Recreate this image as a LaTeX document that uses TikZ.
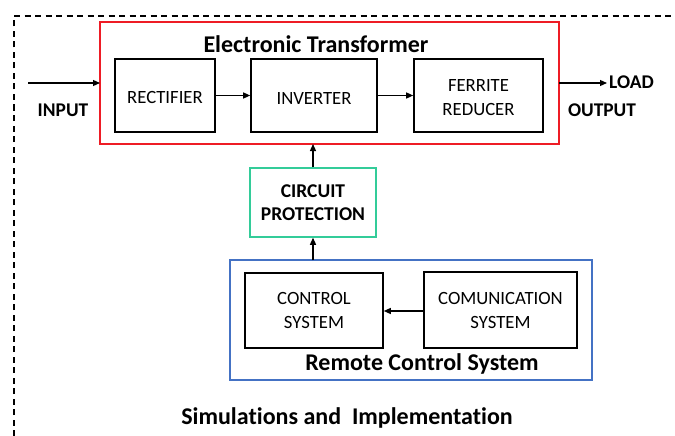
\documentclass[tikz,border=0pt]{standalone}
\usepackage{fontspec}
\setmainfont[Ligatures=NoCommon]{Carlito}
\usetikzlibrary{arrows.meta,positioning}
\definecolor{redframe}{HTML}{EE1C25}
\definecolor{greenframe}{HTML}{33CC99}
\definecolor{blueframe}{HTML}{4472C4}
% taller strut pushes a block's text slightly downwards
\newcommand{\lowstrut}{\rule{0pt}{17pt}}
\tikzset{
  x=1pt, y=-1pt,
  block/.style={draw=black, line width=1.6pt, inner sep=0pt, align=center, font=\fontsize{18.7}{24}\selectfont},
  frame/.style={line width=1.5pt, inner sep=0pt},
  title/.style={font=\bfseries\fontsize{24}{28}\selectfont, inner sep=0pt},
  tag/.style={font=\bfseries\fontsize{19.4}{22}\selectfont, inner sep=0pt},
  flow/.style={line width=1.2pt, -{Triangle[length=7pt,width=6pt]}},
}
\begin{document}
\begin{tikzpicture}
\useasboundingbox (0,0) rectangle (675,436);
% outer dashed frame
\draw[line width=1.3pt, dash pattern=on 6pt off 4.5pt] (14,436) -- (14,16) -- (675,16);

% electronic transformer
\draw[frame, draw=redframe] (100,22) rectangle (559,144);
\coordinate (etbot) at (313,144);
\node[title] (ettitle) at (316,44) {Electronic Transformer};
\node[block, minimum width=100pt, minimum height=73pt] (rect) at (165,95.5) {\lowstrut RECTIFIER};
\node[block, minimum width=126pt, minimum height=73pt] (inv) at (314,95.5) {\lowstrut INVERTER};
\node[block, minimum width=129pt, minimum height=73pt] (fer) at (478.5,95.5) {\lowstrut FERRITE\\REDUCER};
\draw[flow] (rect.east) -- (inv.west);
\draw[flow] (inv.east) -- (fer.west);

% input / output
\coordinate (inL) at (28,83);
\coordinate (inR) at (100,83);
\coordinate (outL) at (559,83);
\coordinate (outR) at (607,83);
\draw[flow] (inL) -- (inR);
\draw[flow] (outL) -- (outR);
\node[tag] (input) at (63,110) {INPUT};
\node[tag, anchor=west] (load) at (609,82) {LOAD};
\node[tag] (output) at (602,110) {OUTPUT};

% circuit protection
\node[draw=greenframe, line width=1.5pt, minimum width=126pt, minimum height=69pt, inner sep=0pt, align=center,
      font=\bfseries\fontsize{19.5}{23}\selectfont] (prot) at (313,202.5) {CIRCUIT\\PROTECTION};
\draw[flow] (prot.north) -- (etbot);

% remote control system
\draw[frame, draw=blueframe] (230,260) rectangle (592,380);
\coordinate (rcstop) at (313,260);
\node[block, minimum width=138pt, minimum height=75pt] (ctrl) at (314,310.5) {CONTROL\\SYSTEM};
\node[block, minimum width=153pt, minimum height=76pt] (comm) at (500.5,310) {COMUNICATION\\SYSTEM};
\node[title] (rctitle) at (422,364) {Remote Control System};
\draw[flow] (rcstop) -- (prot.south);
\draw[flow] (comm.west |- 0,311) -- (ctrl.east |- 0,311);

% caption
\node[title] (caption) at (347,418) {Simulations and\ \ Implementation};
\end{tikzpicture}
\end{document}
